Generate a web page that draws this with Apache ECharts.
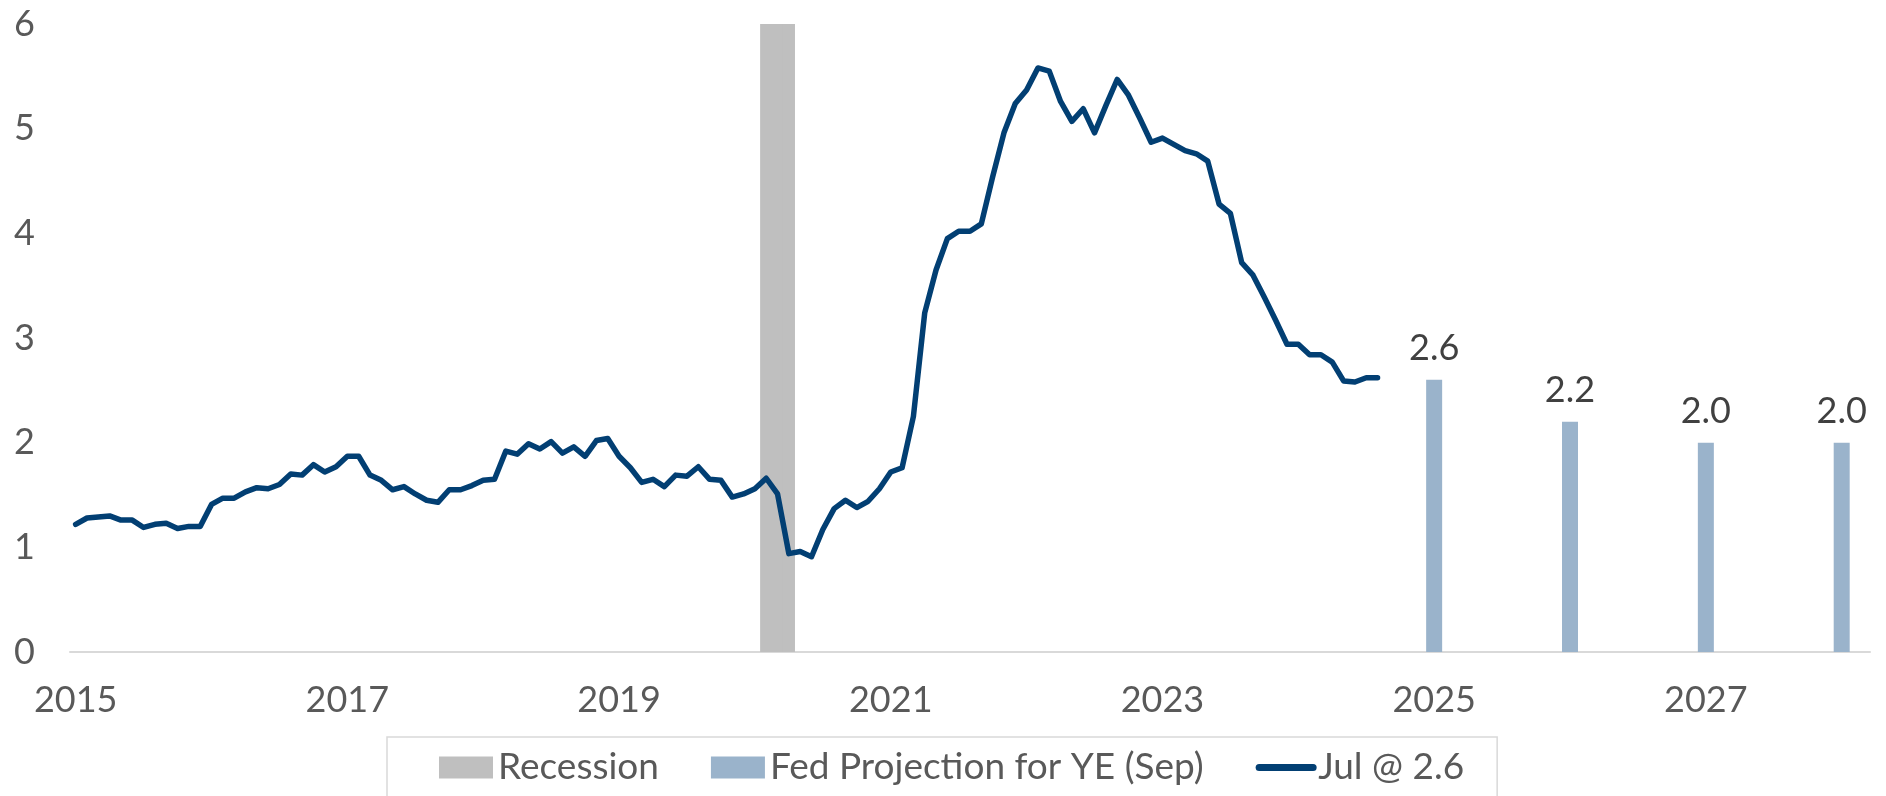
<!DOCTYPE html>
<html>
<head>
<meta charset="utf-8">
<script src="https://cdn.jsdelivr.net/npm/echarts@6/dist/echarts.min.js"></script>
<style>
html,body{margin:0;padding:0;background:#fff;}
#chart{width:1886px;height:796px;}
</style>
</head>
<body>
<div id="chart"></div>
<script>
// ---- Data ----
const startYear = 2015;
const monthCount = 159; // Jan 2015 .. Mar 2028 on the axis

// Monthly inflation series, starting Jan 2015
const inflation = [
  1.22, 1.28, 1.29, 1.30, 1.26, 1.26, 1.19, 1.22, 1.23, 1.18, 1.20, 1.20,
  1.41, 1.47, 1.47, 1.53, 1.57, 1.56, 1.60, 1.70, 1.69, 1.79, 1.72, 1.77,
  1.87, 1.87, 1.69, 1.64, 1.55, 1.58, 1.51, 1.45, 1.43, 1.55, 1.55, 1.59,
  1.64, 1.65, 1.92, 1.89, 1.99, 1.94, 2.01, 1.90, 1.96, 1.87, 2.02, 2.04,
  1.87, 1.76, 1.62, 1.65, 1.58, 1.69, 1.68, 1.77, 1.65, 1.64, 1.48, 1.51,
  1.56, 1.66, 1.51, 0.94, 0.96, 0.91, 1.17, 1.37, 1.45, 1.38, 1.44, 1.56,
  1.72, 1.76, 2.25, 3.24, 3.65, 3.95, 4.02, 4.02, 4.09, 4.54, 4.96, 5.24,
  5.37, 5.58, 5.55, 5.26, 5.07, 5.19, 4.96, 5.22, 5.47, 5.32, 5.10, 4.87,
  4.91, 4.85, 4.79, 4.76, 4.69, 4.28, 4.19, 3.72, 3.60, 3.39, 3.17, 2.94,
  2.94, 2.84, 2.84, 2.77, 2.59, 2.58, 2.62, 2.62
];

// Recession months
const recessionMonths = ['2020-02', '2020-03', '2020-04'];
const recessionHeight = 6;

// Fed projections for year end (placed at the start of the next year)
const projectionMonths = ['2025-01', '2026-01', '2027-01', '2028-01'];
const projectionValues = [2.6, 2.2, 2.0, 2.0];

// Axis ticks
const yTicks = { min: 0, max: 6, interval: 1 };

// ---- Build categories ----
const months = [];
for (let i = 0; i < monthCount; i++) {
  const y = startYear + Math.floor(i / 12);
  const m = (i % 12) + 1;
  months.push(y + '-' + (m < 10 ? '0' + m : '' + m));
}

const lineData = inflation.map((v, i) => [months[i], v]);
const recessionData = recessionMonths.map(m => [m, recessionHeight]);
const projectionData = projectionMonths.map((m, i) => [m, projectionValues[i]]);

const FONT = 'Lato, "Open Sans", sans-serif';
const LINE_COLOR = '#023F73';
const chart = echarts.init(document.getElementById('chart'), null, { renderer: 'canvas' });

chart.setOption({
  animation: false,
  backgroundColor: '#ffffff',
  textStyle: { fontFamily: FONT },
  grid: { left: 70, right: 16, top: 24, bottom: 144, containLabel: false },
  xAxis: [
    {
      type: 'category',
      data: months,
      boundaryGap: true,
      axisLine: { show: true, lineStyle: { color: '#D9D9D9', width: 2 } },
      axisTick: { show: false },
      splitLine: { show: false },
      axisLabel: {
        interval: (idx) => idx % 24 === 0,
        formatter: (v) => v.slice(0, 4),
        fontSize: 36,
        color: '#595959',
        fontFamily: FONT,
        margin: 30
      }
    },
    {
      type: 'category',
      data: months,
      boundaryGap: true,
      show: false
    }
  ],
  yAxis: {
    type: 'value',
    min: yTicks.min,
    max: yTicks.max,
    interval: yTicks.interval,
    axisLine: { show: false },
    axisTick: { show: false },
    splitLine: { show: false },
    axisLabel: {
      fontSize: 36,
      color: '#595959',
      fontFamily: FONT,
      margin: 35
    }
  },
  legend: {
    left: 387,
    top: 737,
    padding: [12, 33, 40, 52],
    itemGap: 52,
    itemWidth: 54,
    itemHeight: 22,
    borderColor: '#D9D9D9',
    borderWidth: 1.5,
    textStyle: { fontSize: 37, color: '#595959', fontFamily: FONT },
    data: [
      { name: 'Recession', icon: 'rect' },
      { name: 'Fed Projection for YE (Sep)', icon: 'rect' },
      {
        name: 'Jul @ 2.6',
        itemStyle: { opacity: 0, color: 'rgba(0,0,0,0)', borderWidth: 0 },
        lineStyle: { width: 7, color: LINE_COLOR }
      }
    ]
  },
  series: [
    {
      name: 'Recession',
      type: 'bar',
      xAxisIndex: 0,
      data: recessionData,
      barWidth: '108%',
      itemStyle: { color: '#BFBFBF' },
      z: 1
    },
    {
      name: 'Fed Projection for YE (Sep)',
      type: 'bar',
      xAxisIndex: 1,
      data: projectionData,
      barWidth: 16,
      itemStyle: { color: '#9AB3CB' },
      label: {
        show: true,
        position: 'top',
        distance: 13,
        fontSize: 36,
        color: '#404040',
        fontFamily: FONT,
        formatter: (p) => p.value[1].toFixed(1)
      },
      z: 2
    },
    {
      name: 'Jul @ 2.6',
      type: 'line',
      xAxisIndex: 0,
      data: lineData,
      symbol: 'none',
      lineStyle: { color: LINE_COLOR, width: 5.5, cap: 'round', join: 'round' },
      itemStyle: { color: LINE_COLOR },
      z: 3
    }
  ]
});
</script>
</body>
</html>
